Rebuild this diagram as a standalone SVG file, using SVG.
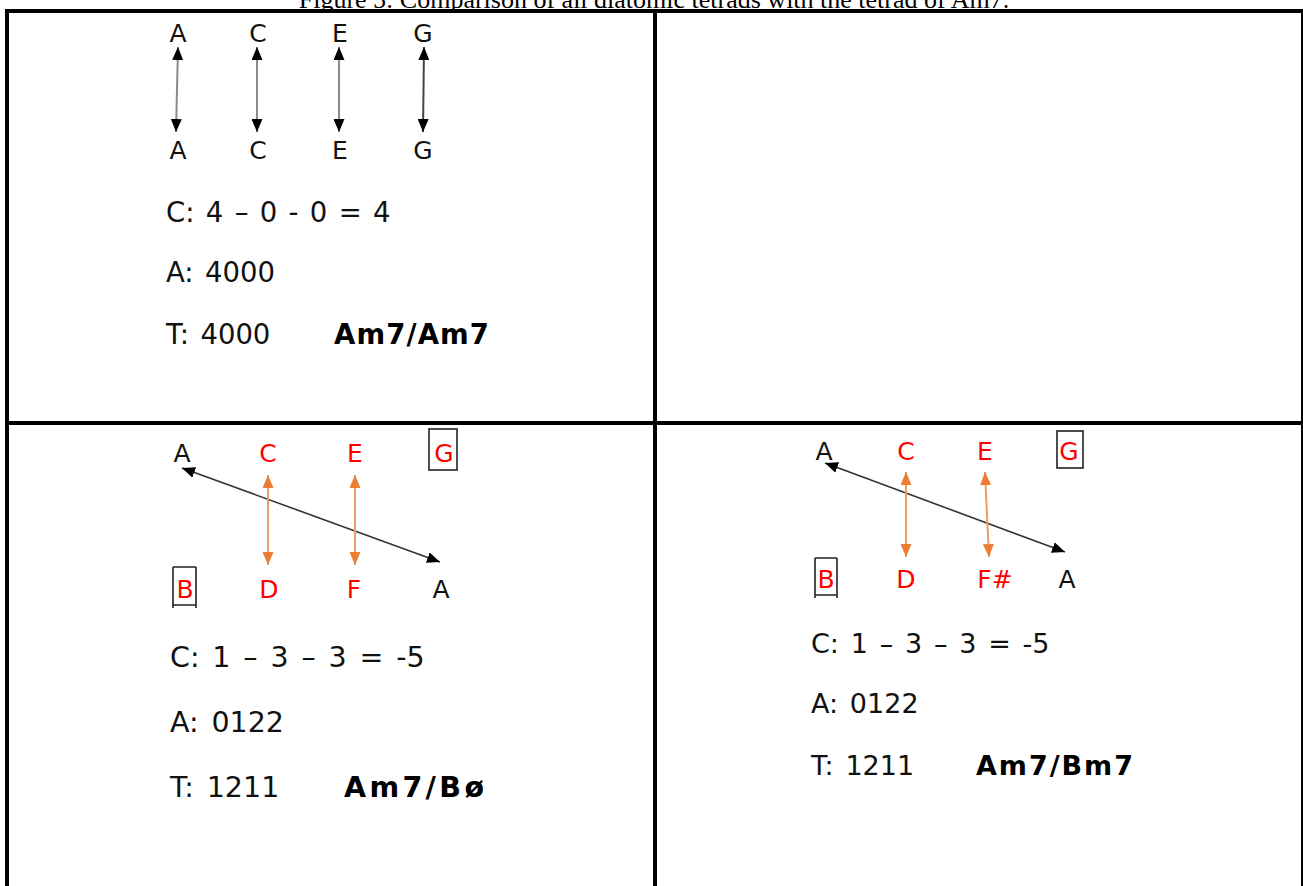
<svg xmlns="http://www.w3.org/2000/svg" width="1303" height="886" viewBox="0 0 1303 886">
<style>
.title{font-family:"Liberation Serif","Times New Roman",serif;font-size:26px;fill:#000}
.n{font-family:"DejaVu Sans",Verdana,sans-serif;font-size:25px;text-anchor:middle;fill:#111}
.r{fill:#ff0000}
.t{font-family:"DejaVu Sans",Verdana,sans-serif;fill:#111}
.b{font-family:"DejaVu Sans",Verdana,sans-serif;font-weight:bold;fill:#000}
.grid{stroke:#000;stroke-width:4;fill:none}
.box{fill:none;stroke:#222;stroke-width:1.6}
.ga{stroke:#8a8a8a;stroke-width:2;fill:none;marker-start:url(#hb);marker-end:url(#hb)}
.da{stroke:#333;stroke-width:1.6;fill:none;marker-start:url(#hb);marker-end:url(#hb)}
.oa{stroke:#ef9a5e;stroke-width:2;fill:none;marker-start:url(#ho);marker-end:url(#ho)}
</style>
<defs>
<marker id="hb" viewBox="0 0 13 11" markerWidth="13" markerHeight="11" refX="13" refY="5.5" orient="auto-start-reverse" markerUnits="userSpaceOnUse"><path d="M0,0 L13,5.5 L0,11 z" fill="#000"/></marker>
<marker id="ho" viewBox="0 0 13 11" markerWidth="13" markerHeight="11" refX="13" refY="5.5" orient="auto-start-reverse" markerUnits="userSpaceOnUse"><path d="M0,0 L13,5.5 L0,11 z" fill="#ed7d31"/></marker>
</defs>
<rect x="0" y="0" width="1303" height="886" fill="#fff"/>
<text class="title" x="654" y="8" text-anchor="middle">Figure 5: Comparison of all diatomic tetrads with the tetrad of Am7.</text>
<rect x="0" y="12" width="1303" height="874" fill="#fff"/>
<g id="grid">
<line class="grid" x1="5" y1="11" x2="1303" y2="11"/>
<line class="grid" x1="7" y1="9" x2="7" y2="886"/>
<line class="grid" x1="655" y1="9" x2="655" y2="886"/>
<line class="grid" x1="5" y1="423" x2="1303" y2="423"/>
<line class="grid" x1="1303" y1="9" x2="1303" y2="886"/>
</g>
<g id="connectors">
<line class="ga" x1="178" y1="47" x2="176" y2="132"/>
<line class="ga" x1="257" y1="47" x2="257" y2="132"/>
<line class="ga" x1="339" y1="47" x2="339" y2="132"/>
<line class="ga" x1="424" y1="47" x2="423" y2="132" style="stroke:#444"/>
<line class="da" x1="182" y1="468" x2="440" y2="562"/>
<line class="oa" x1="268" y1="475" x2="268" y2="565"/>
<line class="oa" x1="355" y1="475" x2="355" y2="565"/>
<line class="da" x1="825" y1="463" x2="1065" y2="552"/>
<line class="oa" x1="906" y1="472" x2="906" y2="557"/>
<line class="oa" x1="985" y1="472" x2="989" y2="557"/>
</g>
<g id="cell-top-left">
<text class="n" x="178" y="42">A</text>
<text class="n" x="258" y="42">C</text>
<text class="n" x="340" y="42">E</text>
<text class="n" x="423" y="42">G</text>
<text class="n" x="178" y="159">A</text>
<text class="n" x="258" y="159">C</text>
<text class="n" x="340" y="159">E</text>
<text class="n" x="423" y="159">G</text>
<text class="t" x="166" y="222" font-size="27.5" word-spacing="2.6">C: 4 – 0 - 0 = 4</text>
<text class="t" x="166" y="282" font-size="27.5" word-spacing="2.6">A: 4000</text>
<text class="t" x="166" y="344" font-size="27.5" word-spacing="2.6">T: 4000</text>
<text class="b" x="334" y="344" font-size="27.5" textLength="155" lengthAdjust="spacing">Am7/Am7</text>
</g>
<g id="cell-bottom-left">
<text class="n" x="182" y="462">A</text>
<text class="n r" x="268" y="462">C</text>
<text class="n r" x="355" y="462">E</text>
<text class="n r" x="444" y="462">G</text>
<rect class="box" x="429" y="429" width="28" height="41"/>
<text class="n r" x="185" y="598">B</text>
<path class="box" d="M173,567 H196 M173,605 H196 M173,567 V608 M196,567 V608"/>
<text class="n r" x="269" y="598">D</text>
<text class="n r" x="354" y="598">F</text>
<text class="n" x="441" y="598">A</text>
<text class="t" x="170" y="667" font-size="28.5" word-spacing="3.8">C: 1 – 3 – 3 = -5</text>
<text class="t" x="170" y="732" font-size="28.5" word-spacing="3.8">A: 0122</text>
<text class="t" x="170" y="797" font-size="28.5" word-spacing="3.8">T: 1211</text>
<text class="b" x="344" y="797" font-size="28.5" textLength="140" lengthAdjust="spacing">Am7/Bø</text>
</g>
<g id="cell-bottom-right">
<text class="n" x="824" y="460">A</text>
<text class="n r" x="906" y="460">C</text>
<text class="n r" x="985" y="460">E</text>
<text class="n r" x="1069" y="460">G</text>
<rect class="box" x="1057" y="431" width="26" height="37"/>
<text class="n r" x="826" y="588">B</text>
<path class="box" d="M815,558 H837 M815,595 H837 M815,558 V598 M837,558 V598"/>
<text class="n r" x="906" y="588">D</text>
<text class="n r" x="995" y="588">F#</text>
<text class="n" x="1067" y="588">A</text>
<text class="t" x="811" y="653" font-size="27" word-spacing="3.2">C: 1 – 3 – 3 = -5</text>
<text class="t" x="811" y="713" font-size="27" word-spacing="3.2">A: 0122</text>
<text class="t" x="811" y="775" font-size="27" word-spacing="3.2">T: 1211</text>
<text class="b" x="976" y="775" font-size="27" textLength="157" lengthAdjust="spacing">Am7/Bm7</text>
</g>
</svg>
